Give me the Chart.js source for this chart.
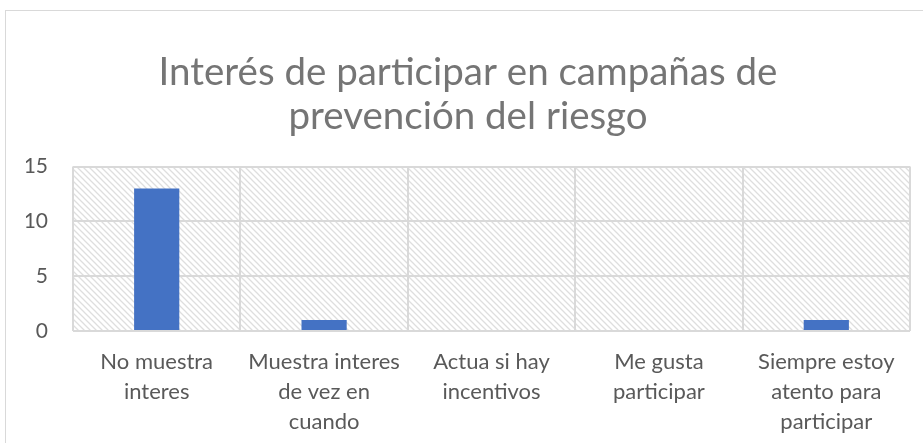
<!DOCTYPE html>
<html>
<head>
<meta charset="utf-8">
<script src="https://cdn.jsdelivr.net/npm/chart.js@4.4.0/dist/chart.umd.min.js"></script>
<style>
  html, body { margin: 0; padding: 0; background: #fff; }
  #wrap { width: 923px; height: 443px; position: relative; }
</style>
</head>
<body>
<div id="wrap"><canvas id="chart"></canvas></div>
<script>
// Chart data
const titleLines = ['Interés de participar en campañas de', 'prevención del riesgo'];
const categories = [
    ['No muestra', 'interes'],
    ['Muestra interes', 'de vez en', 'cuando'],
    ['Actua si hay', 'incentivos'],
    ['Me gusta', 'participar'],
    ['Siempre estoy', 'atento para', 'participar']
];
const values = [13, 1, 0, 0, 1];
const yTicks = [0, 5, 10, 15];

// Diagonal hatch used as the plot area fill
function makeHatch(ctx) {
    const tile = document.createElement('canvas');
    tile.width = 6;
    tile.height = 6;
    const g = tile.getContext('2d');
    g.strokeStyle = '#dedede';
    g.lineWidth = 1.3;
    g.beginPath();
    g.moveTo(-1, -1); g.lineTo(7, 7);
    g.moveTo(-1, 5); g.lineTo(1, 7);
    g.moveTo(5, -1); g.lineTo(7, 1);
    g.stroke();
    return ctx.createPattern(tile, 'repeat');
}

const backdrop = {
    id: 'backdrop',
    beforeDraw(chart) {
        const ctx = chart.ctx;
        const a = chart.chartArea;
        ctx.save();
        // outer chart frame
        ctx.strokeStyle = '#d9d9d9';
        ctx.lineWidth = 1;
        ctx.strokeRect(5.5, 10.5, 1200, 1200);
        ctx.fillStyle = makeHatch(ctx);
        ctx.fillRect(a.left, a.top, a.right - a.left, a.bottom - a.top);
        ctx.restore();
    }
};

const ctx = document.getElementById('chart');
new Chart(ctx, {
    type: 'bar',
    data: {
        labels: categories,
        datasets: [{
            data: values,
            backgroundColor: '#4472c4',
            categoryPercentage: 1,
            barPercentage: 0.27
        }]
    },
    options: {
        responsive: true,
        maintainAspectRatio: false,
        animation: false,
        layout: { padding: { left: 26, right: 13, top: 0, bottom: 6 } },
        plugins: {
            legend: { display: false },
            tooltip: { enabled: false },
            title: {
                display: true,
                text: titleLines,
                color: '#757575',
                font: { family: 'Lato', size: 38.5, weight: 'normal', lineHeight: 1.15 },
                padding: { top: 50, bottom: 28 }
            }
        },
        scales: {
            x: {
                afterFit: s => { s.height = 106; },
                grid: { color: '#d9d9d9', lineWidth: 2, drawTicks: false },
                border: { display: false },
                ticks: {
                    color: '#595959',
                    font: { family: 'Lato', size: 22, lineHeight: 1.36 },
                    padding: 16,
                    maxRotation: 0,
                    autoSkip: false
                }
            },
            y: {
                min: 0,
                max: 15,
                afterBuildTicks: s => { s.ticks = yTicks.map(v => ({ value: v })); },
                afterFit: s => { s.width = 47; },
                grid: { color: '#d9d9d9', lineWidth: 2, drawTicks: false },
                border: { display: false },
                ticks: {
                    color: '#595959',
                    font: { family: 'Lato', size: 21 },
                    padding: 25
                }
            }
        }
    },
    plugins: [backdrop]
});
</script>
</body>
</html>
